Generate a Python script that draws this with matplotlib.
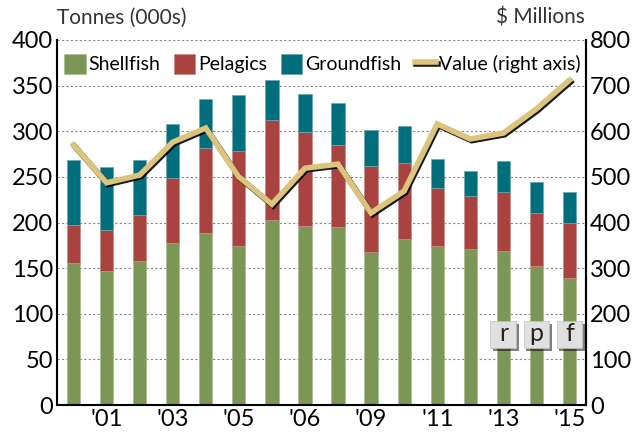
import matplotlib.pyplot as plt
import matplotlib.patheffects as pe
from matplotlib.patches import FancyBboxPatch
import numpy as np

plt.rcParams["font.family"] = ["Lato", "DejaVu Sans"]

years = list(range(2000, 2016))
shellfish = [156, 147, 158, 177, 188, 174, 203, 196, 195, 168, 182, 174, 171, 169, 152, 139]
pelagics_top = [197, 192, 208, 249, 282, 278, 312, 299, 285, 262, 265, 238, 229, 233, 210, 199]
totals = [268, 261, 268, 308, 335, 340, 356, 341, 331, 301, 306, 270, 256, 267, 244, 233]
value = [570, 487, 504, 576, 607, 500, 440, 519, 528, 421, 469, 616, 583, 596, 649, 712]
tick_pos = [1, 3, 5, 7, 9, 11, 13, 15]
tick_labels = ["'01", "'03", "'05", "'06", "'09", "'11", "'13", "'15"]
flags = ["r", "p", "f"]

pelagics = np.array(pelagics_top) - np.array(shellfish)
groundfish = np.array(totals) - np.array(pelagics_top)

green = "#7B9655"
red = "#A8433F"
teal = "#006E7B"
gold = "#DCC47C"

fig = plt.figure(figsize=(6.39, 4.33), dpi=100)
ax = fig.add_axes([57 / 639, 28 / 433, 529 / 639, 365 / 433])
x = np.arange(len(years))
w = 0.4
ax.bar(x, shellfish, w, color=green, edgecolor="#A9BC8E", linewidth=0.5, label="Shellfish", zorder=2)
ax.bar(x, pelagics, w, bottom=shellfish, color=red, edgecolor="#C98A87", linewidth=0.5, label="Pelagics", zorder=2)
ax.bar(x, groundfish, w, bottom=pelagics_top, color=teal, edgecolor="#6FA6AE", linewidth=0.5, label="Groundfish", zorder=2)

ax.set_xlim(-0.5, len(years) - 0.5)
ax.set_ylim(0, 400)
ax.set_yticks(range(0, 401, 50))
ax.set_xticks(tick_pos)
ax.set_xticklabels(tick_labels)
ax.tick_params(axis="both", length=0, labelsize=17, pad=3)
ax.yaxis.grid(True, linestyle=(0, (2, 2)), color="#888888", linewidth=0.8, zorder=0)
ax.set_axisbelow(True)
ax.spines["top"].set_visible(False)
for side in ["left", "right", "bottom"]:
    ax.spines[side].set_linewidth(1.5)

ax2 = ax.twinx()
ax2.set_ylim(0, 800)
ax2.set_yticks(range(0, 801, 100))
ax2.tick_params(axis="y", length=0, labelsize=17, pad=3)
for side in ["top", "left", "bottom"]:
    ax2.spines[side].set_visible(False)
ax2.spines["right"].set_linewidth(1.5)
line, = ax2.plot(x, value, color=gold, linewidth=4, solid_joinstyle="miter", label="Value (right axis)",
                 path_effects=[pe.SimpleLineShadow(offset=(1, -1.2), shadow_color="black", alpha=0.9),
                               pe.Normal()], zorder=3)

handles = ax.get_legend_handles_labels()[0] + [line]
labels = ["Shellfish", "Pelagics", "Groundfish", "Value (right axis)"]
ax2.legend(handles, labels, ncol=4, loc="upper left", bbox_to_anchor=(-0.012, 1.0), frameon=False,
           fontsize=14, handlelength=1.1, handleheight=1.2, handletextpad=0.15, columnspacing=0.7,
           borderaxespad=0.3)

# small r / p / f boxes over the last three bars
for i, f in enumerate(flags):
    xi = len(years) - 3 + i
    box = FancyBboxPatch((xi - 0.39, 62), 0.78, 30, boxstyle="square,pad=0", fc="#E0E0E0",
                         ec="#C0C0C0", lw=0.5, zorder=4,
                         path_effects=[pe.SimplePatchShadow(offset=(2, -2), shadow_rgbFace="black", alpha=0.5),
                                       pe.Normal()])
    ax.add_patch(box)
    ax.text(xi, 78, f, fontsize=18, ha="center", va="center", color="#222222", zorder=5)

fig.text(57 / 639, 1 - 18 / 433, "Tonnes (000s)", fontsize=15, ha="left", va="center", color="#333333")
fig.text(585 / 639, 1 - 18 / 433, "$ Millions", fontsize=15, ha="right", va="center", color="#333333")

fig.savefig("out.png", dpi=100)
